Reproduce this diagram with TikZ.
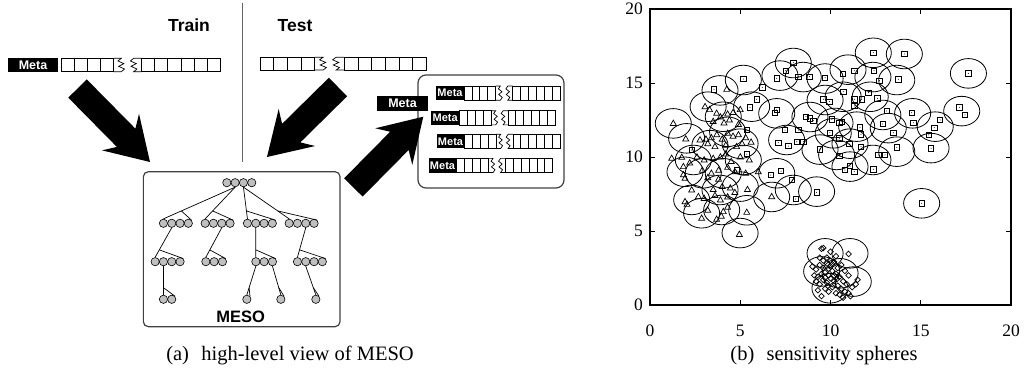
\documentclass[tikz,border=0pt]{standalone}
\usepackage{fontspec}
\setmainfont{Liberation Serif}
\newfontfamily\hvfont{Liberation Sans}
\usepackage{tikz}
\usetikzlibrary{calc}
\tikzset{
  metabox/.style={rectangle, fill=black, text=white, inner sep=0pt,
    font=\hvfont\bfseries\fontsize{12.5}{14}\selectfont},
  smallmeta/.style={metabox, minimum width=28pt, minimum height=14.2pt,
    font=\hvfont\bfseries\fontsize{11}{12}\selectfont},
  cellline/.style={draw=black, line width=0.7pt},
  panel/.style={rectangle, draw=black!75, line width=1.2pt, inner sep=0pt},
  ball/.style={circle, draw=black, fill=black!25, minimum size=8.3pt, inner sep=0pt, line width=0.6pt},
  twig/.style={black, line width=0.7pt},
  headlbl/.style={font=\hvfont\bfseries\fontsize{17.5}{20}\selectfont, inner sep=0pt, anchor=base},
  caption/.style={font=\fontsize{20.5}{24}\selectfont, inner sep=0pt, anchor=base},
  ticklbl/.style={font=\fontsize{17.5}{20}\selectfont, inner sep=0pt},
  sphere/.style={black, line width=0.8pt},
  ptline/.style={black, line width=0.7pt},
  sqpt/.pic={\draw[ptline] (-2.6pt,-2.6pt) rectangle (2.6pt,2.6pt); \fill (0pt,0pt) circle (0.5pt);},
  tript/.pic={\draw[ptline] (0pt,3.3pt) -- (-3pt,-2pt) -- (3pt,-2pt) -- cycle;},
  dmpt/.pic={\draw[ptline] (0pt,2.8pt) -- (2.8pt,0pt) -- (0pt,-2.8pt) -- (-2.8pt,0pt) -- cycle;}
}
\newcommand{\databar}[4]{%
  \foreach \i in {0,...,3} \draw[cellline] ({#1+\i*#3},#2) rectangle ++(#3,#4);
  \draw[cellline] ({#1+4*#3},#2) -- ++({0.6*#3},0) -- ++({-0.25*#3},{0.2*#4}) -- ++({0.45*#3},{0.2*#4})
    -- ++({-0.4*#3},{0.2*#4}) -- ++({0.45*#3},{0.2*#4}) -- ++({-0.25*#3},{0.2*#4}) -- ++({-0.6*#3},0);
  \draw[cellline] ({#1+6.15*#3},#2) -- ++({-0.6*#3},0) -- ++({-0.25*#3},{0.2*#4}) -- ++({0.45*#3},{0.2*#4})
    -- ++({-0.4*#3},{0.2*#4}) -- ++({0.45*#3},{0.2*#4}) -- ++({-0.25*#3},{0.2*#4}) -- ++({0.6*#3},0);
  \foreach \i in {0,...,5} \draw[cellline] ({#1+(6.15+\i)*#3},#2) rectangle ++(#3,#4);}
\newcommand{\ballrow}[4]{%
  \foreach \i in {1,...,#4} \node[ball] (#1\i) at ({#2+4.15+(\i-1)*8.3},#3) {};}
\newcommand{\fan}[3]{%
  \draw[twig] (#1) -- (#2.north);
  \draw[twig] ($(#1)!0.75!(#2.north)$) -- (#3.north east);}
\makeatletter
\newcommand{\blockarrow}[2]{%
  \pgfpointdiff{\pgfpointanchor{#1}{center}}{\pgfpointanchor{#2}{center}}%
  \edef\arrdx{\the\pgf@x}\edef\arrdy{\the\pgf@y}%
  \pgfmathsetmacro\arrlen{veclen(\arrdx,\arrdy)}%
  \pgfmathanglebetweenpoints{\pgfpointanchor{#1}{center}}{\pgfpointanchor{#2}{center}}%
  \let\arrang\pgfmathresult
  \begin{scope}[shift={(#2)}, rotate=\arrang]
    \fill[black] (0,0) -- (-42,26) -- (-34,13) -- (-\arrlen,13) -- (-\arrlen,-13)
      -- (-34,-13) -- (-42,-26) -- cycle;
  \end{scope}}
\makeatother

\begin{document}
\begin{tikzpicture}[x=1pt, y=-1pt]
\useasboundingbox (0,0) rectangle (1026,371);

\node[headlbl] (train) at (189,31.7) {Train};
\node[headlbl] (test) at (295,31.7) {Test};
\draw[black!60, line width=0.8pt] (242,3) -- (242,162);

\node[metabox, minimum width=50pt, minimum height=13.4pt] (trmeta) at (33,65) {Meta};
\databar{61}{58.3}{13.1}{13.4}
\databar{260}{57.3}{13.7}{12.8}

\node[panel, rounded corners=5pt, minimum width=196.7pt, minimum height=155pt] (meso) at (241.7,249.2) {};
\node[panel, rounded corners=8pt, minimum width=146pt, minimum height=113pt] (qbox) at (491,131.5) {};

\node[smallmeta] (qm1) at (450,93.1) {Meta};
\databar{464}{86}{7.9}{14.2}
\node[smallmeta] (qm2) at (445.2,117.8) {Meta};
\databar{459.3}{110.7}{7.9}{14.2}
\node[smallmeta] (qm3) at (450.5,141.4) {Meta};
\databar{464.3}{134.3}{7.9}{14.2}
\node[smallmeta] (qm4) at (442.5,165.5) {Meta};
\databar{456.7}{158.4}{7.9}{14.2}
\node[metabox, minimum width=51.6pt, minimum height=14.7pt] (newmeta) at (402.5,103.3) {Meta};

\coordinate (trtail) at (77.5,88.5);
\coordinate (trtip) at (150,162);
\coordinate (tetail) at (338,87);
\coordinate (tetip) at (267,157);
\coordinate (qtail) at (353.3,187.5);
\coordinate (qtip) at (423.3,116.7);
\blockarrow{trtail}{trtip}
\blockarrow{tetail}{tetip}
\blockarrow{qtail}{qtip}

\ballrow{rt}{222.7}{182.7}{4}
\ballrow{ga}{159.3}{223.3}{4}
\ballrow{gb}{201}{223.3}{4}
\ballrow{gc}{243.3}{223.3}{4}
\ballrow{gd}{285}{223.3}{4}
\ballrow{ha}{151}{261.7}{4}
\ballrow{hb}{201.7}{261.7}{3}
\ballrow{hc}{251.7}{261.7}{3}
\ballrow{hd}{293.3}{261.7}{4}
\ballrow{ka}{159.3}{299.3}{2}
\ballrow{kb}{242.7}{299.3}{1}
\ballrow{kc}{276.7}{299.3}{1}
\ballrow{kd}{311.7}{299.3}{1}
\fan{rt2.south}{ga1}{ga4}
\fan{rt2.south}{gb1}{gb4}
\fan{rt3.south}{gc1}{gc4}
\fan{rt3.south}{gd1}{gd4}
\fan{ga2.south}{ha1}{ha4}
\fan{gb3.south}{hb1}{hb3}
\fan{gc2.south}{hc1}{hc3}
\fan{gd3.south}{hd1}{hd4}
\fan{ha2.south}{ka1}{ka2}
\fan{hc1.south}{kb1}{kb1}
\fan{hc3.south}{kc1}{kc1}
\fan{hd2.south}{kd1}{kd1}
\node[headlbl, font=\hvfont\bfseries\fontsize{16.5}{19}\selectfont] (mesolbl) at (240.7,322.5) {MESO};

\begin{scope}[shift={(650,305)}, x=18.05pt, y=14.8pt]
  \draw[line width=1.2pt] (0,0) rectangle (20,20);
  \foreach \v in {5,10,15} {
    \draw[line width=0.8pt] (\v,0) -- ++(0pt,5pt) (\v,20) -- ++(0pt,-5pt);
    \draw[line width=0.8pt] (0,\v) -- ++(5pt,0pt) (20,\v) -- ++(-5pt,0pt);
  }
  \foreach \v in {0,5,...,20} {
    \node[ticklbl, anchor=base] (xt\v) at ($(\v,0)+(0pt,-32pt)$) {\v};
    \node[ticklbl, anchor=east] (yt\v) at ($(0,\v)+(-7pt,0pt)$) {\v};
  }
  \foreach \a/\b in {12.37/17.04,14.09/16.96,17.64/15.65,17.27/13.1,15.57/10.6,14.55/12.95,15.8/12.05,
    13.67/10.36,12.35/9.8,11.08/9.35,10.34/10.14,9.42/10.5,7.57/11.15,7.02/12.95,5.63/13.4,5.17/15.2,
    7.94/16.35,7.2/15.5,8.49/15.4,9.7/15.3,10.97/15.9,12.35/15.4,13.67/15.2,9.7/13.85,10.7/14.07,
    12.2/14.07,12.9/12.84,8.86/12.7,10.25/12.3,11.45/12.05,13.2/11.95,10.15/11.6,11.08/10.9,15.05/6.87,
    7.02/8.9,7.94/7.77,9.23/7.66,
    1.29/12.27,2.03/11.26,3.22/13.4,4.06/12.72,3.88/14.5,2.4/9.8,1.94/9.0,3.32/10.8,4.99/10.9,2.95/8.9,
    4.06/8.9,5.17/9.8,2.31/7.1,3.88/7.77,5.0/8.0,2.86/6.2,3.97/6.42,5.36/6.4,4.99/4.86,6.74/7.3,4.3/11.7,
    9.7/3.49,11.08/3.49,9.51/2.27,10.53/2.14,9.97/1.13,11.26/1.58}
    \draw[sphere] (\a,\b) circle[radius=1];
  \foreach \a/\b in {12.37/17.05,14.09/16.96,17.64/15.65,17.14/13.36,17.45/12.84,15.57/10.59,14.5/12.99,
    14.59/12.32,16.07/12.5,15.75/11.98,15.44/11.49,13.67/10.65,13.11/13.11,12.89/12.23,13.48/11.64,
    12.6/13.96,12.1/14.35,11.73/13.9,11.32/13.45,11.32/13.9,10.71/14.41,9.6/13.9,9.94/13.74,12.41/15.83,
    12.71/15.16,13.76/15.25,11.32/15.83,10.67/15.61,9.7/15.36,8.83/15.43,8.22/15.43,7.94/16.37,
    7.52/15.83,7.02/15.32,5.17/15.27,3.55/14.57,6.22/14.71,5.91/13.9,5.54/13.36,6.93/12.99,7.02/13.18,
    8.64/12.73,8.86/12.61,9.05/12.45,10.07/12.55,10.49/12.32,10.62/12.39,9.97/11.64,10.49/11.26,
    11.63/12.0,11.69/11.53,11.04/10.88,11.69/10.7,9.42/10.52,10.49/10.07,11.08/9.39,10.8/9.12,
    11.32/9.01,12.37/9.17,12.65/10.14,13.02/10.14,7.48/11.82,8.22/11.82,7.11/10.97,7.66/10.74,
    8.13/11.04,8.49/11.04,5.36/11.82,2.31/10.47,6.69/8.78,7.26/9.05,7.88/8.45,9.23/7.61,8.07/7.16,
    15.05/6.87,5.36/10.2,4.8/9.1}
    \pic at (\a,\b) {sqpt};
  \foreach \a/\b in {1.29/12.27,1.98/11.22,3.05/13.4,3.3/13.2,4.25/14.57,3.69/12.95,3.9/12.7,4.3/12.9,
    4.6/13.0,5.0/13.2,3.5/12.4,4.1/12.3,4.4/12.5,4.9/12.2,2.77/11.15,3.1/11.2,3.4/11.3,3.7/11.5,
    4.0/11.2,4.3/11.6,4.6/11.4,4.9/11.5,5.3/11.3,5.6/11.0,3.2/10.9,3.6/10.7,4.2/10.8,4.8/10.7,5.1/10.9,
    1.2/9.91,1.76/9.98,2.6/10.0,3.0/9.8,3.5/9.9,3.9/10.0,4.2/10.2,4.5/9.7,5.0/10.0,5.5/9.8,2.2/9.6,
    1.85/9.35,1.85/8.8,1.94/8.56,2.9/9.1,3.4/8.9,3.8/9.1,4.3/9.3,4.7/9.0,5.3/8.9,6.0/9.0,3.2/8.6,
    3.8/8.5,2.31/7.77,2.68/7.32,1.94/6.98,2.05/6.8,3.0/7.2,3.6/7.4,3.9/7.1,4.3/7.3,4.7/7.6,5.4/7.8,
    3.5/7.8,4.0/8.0,4.45/7.9,6.74/7.32,5.36/6.26,4.06/6.31,3.69/5.79,2.86/5.86,3.2/6.4,4.3/6.6,
    4.95/4.77,3.95/6.0}
    \pic at (\a,\b) {tript};
  \foreach \a/\b in {9.5/3.8,9.6/3.85,10.0/3.6,11.0/3.45,10.3/3.3,9.0/2.6,9.2/2.4,9.4/2.7,9.6/2.5,
    9.8/2.8,10.0/2.6,10.2/2.9,10.4/2.5,10.6/2.7,10.8/2.3,11.0/2.0,9.1/2.0,9.3/1.9,9.5/2.1,9.7/2.2,
    9.9/2.0,10.1/2.3,10.3/2.1,10.5/1.9,10.7/1.6,10.9/1.4,11.2/1.2,11.5/1.7,11.4/1.4,9.2/1.6,9.4/1.4,
    9.6/1.7,9.8/1.5,10.0/1.8,10.2/1.6,10.4/1.3,10.6/1.1,10.8/0.9,11.0/0.8,9.3/1.0,9.5/0.6,9.7/1.1,
    9.9/0.9,10.1/1.2,10.3/0.8,10.5/0.7,10.7/0.5,11.1/0.6,9.6/3.0,9.8/3.2,10.0/3.0,9.4/3.2,10.2/2.0,
    9.9/2.45,10.1/2.75,9.7/1.85,10.35/1.75,9.85/1.3}
    \pic at (\a,\b) {dmpt};
\end{scope}

\node[caption] (capa) at (290,361) {(a)\hspace{0.6em}high-level view of MESO};
\node[caption] (capb) at (824,361) {(b)\hspace{0.6em}sensitivity spheres};
\end{tikzpicture}
\end{document}
